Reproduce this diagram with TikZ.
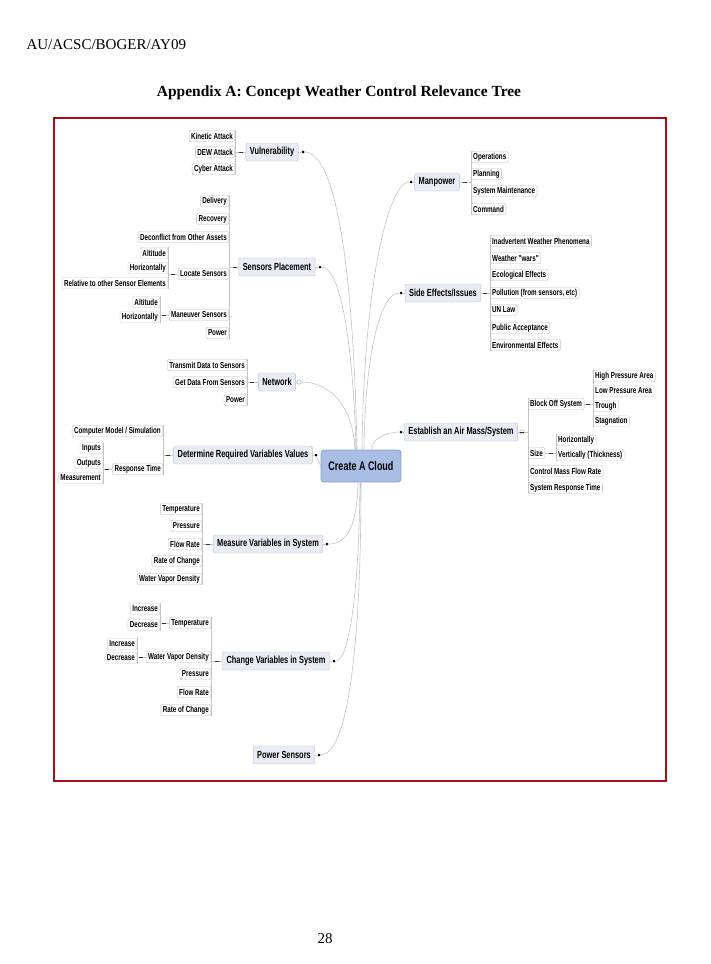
\documentclass[tikz,border=0pt]{standalone}
\usepackage{fontspec}
\setmainfont{Liberation Serif}
\newfontfamily\mapfont[FakeStretch=0.72]{Liberation Sans}
\usetikzlibrary{positioning}

\definecolor{framered}{RGB}{168,16,20}
\definecolor{hubfill}{RGB}{168,190,228}
\definecolor{hubline}{RGB}{135,160,205}
\definecolor{branchfill}{RGB}{234,236,245}
\definecolor{branchline}{RGB}{185,190,205}
\definecolor{leafline}{RGB}{190,190,190}
\definecolor{limbgray}{RGB}{195,195,195}

\tikzset{
  hub/.style={draw=hubline, fill=hubfill, rounded corners=3pt, line width=0.8pt,
    minimum width=80pt, minimum height=32pt, inner sep=2pt,
    font=\mapfont\bfseries\fontsize{12.5}{14}\selectfont},
  branch/.style={draw=branchline, fill=branchfill, rounded corners=2pt,
    minimum height=18pt, inner xsep=4pt, inner ysep=2pt,
    font=\mapfont\bfseries\fontsize{10.3}{12}\selectfont},
  leaf/.style={draw=leafline, fill=white, rounded corners=1.5pt,
    minimum height=11.5pt, inner xsep=2pt, inner ysep=1pt,
    font=\mapfont\bfseries\fontsize{8.7}{10}\selectfont},
  twig/.style={leaf, draw=leafline!70},
  knob/.style={circle, fill=black, inner sep=0pt, minimum size=3pt},
  hollow/.style={circle, draw=gray!70, fill=white, inner sep=0pt, minimum size=4.5pt},
  fold/.style={fill=black!80, inner sep=0pt, minimum width=3.5pt, minimum height=0.8pt},
  limb/.style={draw=limbgray, line width=0.6pt},
  rail/.style={draw=limbgray, line width=0.5pt},
}

\begin{document}
\begin{tikzpicture}[x=1pt,y=-1pt]
  \useasboundingbox (0,0) rectangle (710,964);
  % page
  \node[anchor=base west, font=\fontsize{15}{18}\selectfont] (hdr) at (23,49) {AU/ACSC/BOGER/AY09};
  \node[anchor=base, font=\bfseries\fontsize{15.5}{18}\selectfont] (ttl) at (339,96) {Appendix A: Concept Weather Control Relevance Tree};
  \node[anchor=base, font=\fontsize{15}{18}\selectfont] (pgno) at (325,943) {28};
  \draw[framered, line width=2pt] (54,118) rectangle (666,781);

  \node[hub] (cloud) at (361,466) {Create A Cloud};

  % left branches
  \node[branch] (vul) at (272,152) {Vulnerability};
  \node[knob]   (vulk) at (303,152) {};
  \node[fold]   (vulf) at (241,152) {};
  \node[leaf,anchor=east] (vul1) at (235,136) {Kinetic Attack};
  \node[leaf,anchor=east] (vul2) at (235,152) {DEW Attack};
  \node[leaf,anchor=east] (vul3) at (235,169) {Cyber Attack};

  \node[branch] (sen) at (277,267) {Sensors Placement};
  \node[knob]   (senk) at (320,267) {};
  \node[fold]   (senf) at (235,267) {};
  \node[leaf,anchor=east] (sen1) at (229,201) {Delivery};
  \node[leaf,anchor=east] (sen2) at (229,219) {Recovery};
  \node[leaf,anchor=east] (sen3) at (229,237) {Deconflict from Other Assets};
  \node[leaf,anchor=east] (loc)  at (229,274) {Locate Sensors};
  \node[leaf,anchor=east] (man)  at (229,315) {Maneuver Sensors};
  \node[leaf,anchor=east] (sen6) at (229,333) {Power};
  \node[fold]   (locf) at (173,274) {};
  \node[twig,anchor=east] (loc1) at (168,253) {Altitude};
  \node[twig,anchor=east] (loc2) at (168,268) {Horizontally};
  \node[twig,anchor=east] (loc3) at (168,283) {Relative to other Sensor Elements};
  \node[fold]   (manf) at (164,315) {};
  \node[twig,anchor=east] (man1) at (160,302) {Altitude};
  \node[twig,anchor=east] (man2) at (160,317) {Horizontally};

  \node[branch] (net) at (277,382) {Network};
  \node[hollow] (netk) at (299,382) {};
  \node[fold]   (netf) at (252,382) {};
  \node[leaf,anchor=east] (net1) at (247,365) {Transmit Data to Sensors};
  \node[leaf,anchor=east] (net2) at (247,382) {Get Data From Sensors};
  \node[leaf,anchor=east] (net3) at (247,400) {Power};

  \node[branch] (det) at (243,455) {Determine Required Variables Values};
  \node[knob]   (detk) at (316,455) {};
  \node[fold]   (detf) at (168,455) {};
  \node[leaf,anchor=east] (det1) at (163,431) {Computer Model / Simulation};
  \node[leaf,anchor=east] (res)  at (163,469) {Response Time};
  \node[fold]   (resf) at (107,469) {};
  \node[twig,anchor=east] (res1) at (103,448) {Inputs};
  \node[twig,anchor=east] (res2) at (103,463) {Outputs};
  \node[twig,anchor=east] (res3) at (103,478) {Measurement};

  \node[branch] (mea) at (268,544) {Measure Variables in System};
  \node[knob]   (meak) at (327,544) {};
  \node[fold]   (meaf) at (208,544) {};
  \node[leaf,anchor=east] (mea1) at (202,509) {Temperature};
  \node[leaf,anchor=east] (mea2) at (202,526) {Pressure};
  \node[leaf,anchor=east] (mea3) at (202,544) {Flow Rate};
  \node[leaf,anchor=east] (mea4) at (202,561) {Rate of Change};
  \node[leaf,anchor=east] (mea5) at (202,579) {Water Vapor Density};

  \node[branch] (chg) at (276,661) {Change Variables in System};
  \node[knob]   (chgk) at (334,661) {};
  \node[fold]   (chgf) at (217,661) {};
  \node[leaf,anchor=east] (ctmp) at (211,623) {Temperature};
  \node[leaf,anchor=east] (cwvd) at (211,657) {Water Vapor Density};
  \node[leaf,anchor=east] (chg3) at (211,674) {Pressure};
  \node[leaf,anchor=east] (chg4) at (211,692) {Flow Rate};
  \node[leaf,anchor=east] (chg5) at (211,710) {Rate of Change};
  \node[fold]   (ctmpf) at (164,623) {};
  \node[twig,anchor=east] (ctmp1) at (160,609) {Increase};
  \node[twig,anchor=east] (ctmp2) at (160,625) {Decrease};
  \node[fold]   (cwvdf) at (141,657) {};
  \node[twig,anchor=east] (cwvd1) at (137,644) {Increase};
  \node[twig,anchor=east] (cwvd2) at (137,658) {Decrease};

  \node[branch] (pow) at (284,755) {Power Sensors};
  \node[knob]   (powk) at (319,755) {};

  % right branches
  \node[branch] (mp)  at (437,182) {Manpower};
  \node[knob]   (mpk) at (411,182) {};
  \node[fold]   (mpf) at (465,182) {};
  \node[leaf,anchor=west] (mp1) at (471,157) {Operations};
  \node[leaf,anchor=west] (mp2) at (471,174) {Planning};
  \node[leaf,anchor=west] (mp3) at (471,191) {System Maintenance};
  \node[leaf,anchor=west] (mp4) at (471,209) {Command};

  \node[branch] (se)  at (443,293) {Side Effects/Issues};
  \node[knob]   (sek) at (401,293) {};
  \node[fold]   (sef) at (485,293) {};
  \node[leaf,anchor=west] (se1) at (490,241) {Inadvertent Weather Phenomena};
  \node[leaf,anchor=west] (se2) at (490,258) {Weather "wars"};
  \node[leaf,anchor=west] (se3) at (490,275) {Ecological Effects};
  \node[leaf,anchor=west] (se4) at (490,293) {Pollution (from sensors, etc)};
  \node[leaf,anchor=west] (se5) at (490,310) {UN Law};
  \node[leaf,anchor=west] (se6) at (490,328) {Public Acceptance};
  \node[leaf,anchor=west] (se7) at (490,345) {Environmental Effects};

  \node[branch] (air)  at (461,432) {Establish an Air Mass/System};
  \node[knob]   (airk) at (401,432) {};
  \node[hollow] (airf) at (522,432) {};
  \node[fold]   (airdash) at (522,432) {};
  \node[leaf,anchor=west] (blk)  at (528,404) {Block Off System};
  \node[leaf,anchor=west] (siz)  at (528,453) {Size};
  \node[leaf,anchor=west] (air3) at (528,471) {Control Mass Flow Rate};
  \node[leaf,anchor=west] (air4) at (528,488) {System Response Time};
  \node[fold]   (blkf) at (588,404) {};
  \node[twig,anchor=west] (blk1) at (593,376) {High Pressure Area};
  \node[twig,anchor=west] (blk2) at (593,391) {Low Pressure Area};
  \node[twig,anchor=west] (blk3) at (593,406) {Trough};
  \node[twig,anchor=west] (blk4) at (593,421) {Stagnation};
  \node[fold]   (sizf) at (551,453) {};
  \node[twig,anchor=west] (siz1) at (556,440) {Horizontally};
  \node[twig,anchor=west] (siz2) at (556,455) {Vertically (Thickness)};

  % limbs from the hub
  \path[limb]
    (vulk) .. controls +(30,0) and +(-4,-200) .. ([xshift=-4pt]cloud.north)
    (senk) .. controls +(20,0) and +(-3,-110) .. ([xshift=-5pt]cloud.north)
    (netk) .. controls +(30,0) and +(-2,-45) .. ([xshift=-6pt]cloud.north)
    (mpk)  .. controls +(-22,0) and +(2,-170) .. ([xshift=1pt]cloud.north)
    (sek)  .. controls +(-22,0) and +(1,-90) .. ([xshift=3pt]cloud.north)
    (airk) .. controls +(-15,0) and +(-2,-10) .. ([xshift=11pt]cloud.north)
    (detk) -- (cloud.west)
    (meak) .. controls +(22,0) and +(-1,40) .. ([xshift=-3pt]cloud.south)
    (chgk) .. controls +(15,0) and +(-1,110) .. ([xshift=-1pt]cloud.south)
    (powk) .. controls +(28,0) and +(0,170) .. (cloud.south);

  % stubs to the knobs
  \path[limb]
    (vul) -- (vulk) (sen) -- (senk) (net) -- (netk) (det) -- (detk)
    (mea) -- (meak) (chg) -- (chgk) (pow) -- (powk)
    (mp) -- (mpk) (se) -- (sek) (air) -- (airk);

  % rails, left side
  \path[rail]
    (vulf) -- (vul.west) (vulf.west) -- (vulf.west -| vul1.east)
    (vul1.north east) -- (vul3.south east)
    (senf) -- (sen.west) (senf.west) -- (senf.west -| sen1.east)
    (sen1.north east) -- (sen6.south east)
    (locf) -- (loc.west) (locf.west) -- (locf.west -| loc1.east)
    (loc1.north east) -- (loc3.south east)
    (manf) -- (man.west) (manf.west) -- (manf.west -| man1.east)
    (man1.north east) -- (man2.south east)
    (netf) -- (net.west) (netf.west) -- (netf.west -| net1.east)
    (net1.north east) -- (net3.south east)
    (detf) -- (det.west) (detf.west) -- (detf.west -| det1.east)
    (det1.north east) -- (res.south east)
    (resf) -- (res.west) (resf.west) -- (resf.west -| res1.east)
    (res1.north east) -- (res3.south east)
    (meaf) -- (mea.west) (meaf.west) -- (meaf.west -| mea1.east)
    (mea1.north east) -- (mea5.south east)
    (chgf) -- (chg.west) (chgf.west) -- (chgf.west -| ctmp.east)
    (ctmp.north east) -- (chg5.south east)
    (ctmpf) -- (ctmp.west) (ctmpf.west) -- (ctmpf.west -| ctmp1.east)
    (ctmp1.north east) -- (ctmp2.south east)
    (cwvdf) -- (cwvd.west) (cwvdf.west) -- (cwvdf.west -| cwvd1.east)
    (cwvd1.north east) -- (cwvd2.south east);

  % rails, right side
  \path[rail]
    (mpf) -- (mp.east) (mpf.east) -- (mpf.east -| mp1.west)
    (mp1.north west) -- (mp4.south west)
    (sef) -- (se.east) (sef.east) -- (sef.east -| se1.west)
    (se1.north west) -- (se7.south west)
    (airf) -- (air.east) (airf.east) -- (airf.east -| blk.west)
    (blk.north west) -- (air4.south west)
    (blkf) -- (blk.east) (blkf.east) -- (blkf.east -| blk1.west)
    (blk1.north west) -- (blk4.south west)
    (sizf) -- (siz.east) (sizf.east) -- (sizf.east -| siz1.west)
    (siz1.north west) -- (siz2.south west);
\end{tikzpicture}
\end{document}
